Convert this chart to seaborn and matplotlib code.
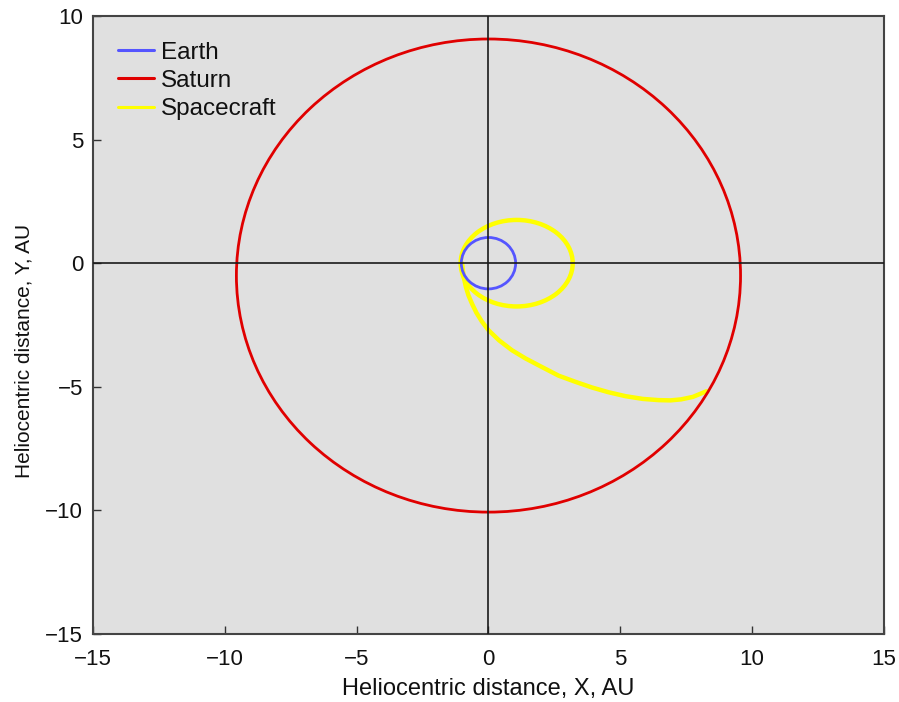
import matplotlib
matplotlib.use("Agg")
import matplotlib.pyplot as plt
from matplotlib.patches import Ellipse
from matplotlib.lines import Line2D
import pandas as pd
import seaborn as sns

# Bodies shown in the legend and their line colours
bodies = ["Earth", "Saturn", "Spacecraft"]
body_colors = ["#5555ff", "#e00000", "#ffff00"]

# Orbit ellipses: centre x, centre y, full width, full height (AU)
earth_orbit = [0.0, 0.0, 2.06, 2.08]
saturn_orbit = [0.0, -0.5, 19.12, 19.14]
spacecraft_loop = [1.07, 0.0, 4.25, 3.50]

# Transfer leg of the spacecraft from the inner loop out to Saturn (AU)
transfer_x = [-1.00, -0.97, -0.93, -0.86, -0.76, -0.62, -0.46, -0.25, 0.00,
              0.40, 0.89, 1.40, 1.90, 2.66, 3.30, 3.93, 4.55, 5.20, 5.85,
              6.46, 6.90, 7.30, 7.75, 8.27]
transfer_y = [0.00, -0.30, -0.60, -0.95, -1.30, -1.65, -2.00, -2.36, -2.71,
              -3.12, -3.52, -3.85, -4.13, -4.55, -4.80, -5.03, -5.22, -5.38,
              -5.49, -5.54, -5.55, -5.51, -5.41, -5.18]

x_ticks = [-15, -10, -5, 0, 5, 10, 15]
y_ticks = [-15, -10, -5, 0, 5, 10]

sns.set_theme(style="ticks")
plt.rcParams["font.family"] = ["Liberation Sans", "DejaVu Sans"]

fig = plt.figure(figsize=(8.99, 7.02), dpi=100)
ax = fig.add_axes([0.1034, 0.0969, 0.8799, 0.8803])
ax.set_facecolor("#e0e0e0")

# Spacecraft: closed loop plus the outbound transfer leg
loop = Ellipse((spacecraft_loop[0], spacecraft_loop[1]), spacecraft_loop[2],
               spacecraft_loop[3], fill=False, edgecolor=body_colors[2],
               lw=3.2, zorder=2)
ax.add_patch(loop)
transfer = pd.DataFrame({"x": transfer_x, "y": transfer_y})
sns.lineplot(data=transfer, x="x", y="y", sort=False, estimator=None,
             color=body_colors[2], lw=3.2, ax=ax, zorder=2)

# Planet orbits
for orbit, color in ((earth_orbit, body_colors[0]), (saturn_orbit, body_colors[1])):
    ax.add_patch(Ellipse((orbit[0], orbit[1]), orbit[2], orbit[3], fill=False,
                         edgecolor=color, lw=2.0, zorder=3))

# Coordinate axes through the Sun
ax.axhline(0, color="#1a1a1a", lw=1.2, zorder=4)
ax.axvline(0, color="#1a1a1a", lw=1.2, zorder=4)

ax.set_xlim(-15, 15)
ax.set_ylim(-15, 10)
ax.set_xticks(x_ticks)
ax.set_yticks(y_ticks)
ax.tick_params(direction="in", length=6, width=1.0, color="#333333",
               labelsize=16, labelcolor="#111111", top=False, right=False)
ax.tick_params(axis="x", pad=11)
ax.tick_params(axis="y", pad=7)
for side in ax.spines.values():
    side.set_color("#444444")
    side.set_linewidth(1.5)

ax.set_xlabel("Heliocentric distance, X, AU", fontsize=17, color="#111111")
ax.set_ylabel("Heliocentric distance, Y, AU", fontsize=15, color="#111111")
ax.xaxis.set_label_coords(0.5, -0.071)
ax.yaxis.set_label_coords(-0.075, 0.458)

handles = [Line2D([], [], color=c, lw=2.2) for c in body_colors]
ax.legend(handles, bodies, loc="upper left", frameon=False, fontsize=17.5,
          handlelength=1.45, handletextpad=0.3, labelspacing=0.26,
          borderaxespad=0.65, labelcolor="#111111")

fig.savefig("out.png", dpi=100)
